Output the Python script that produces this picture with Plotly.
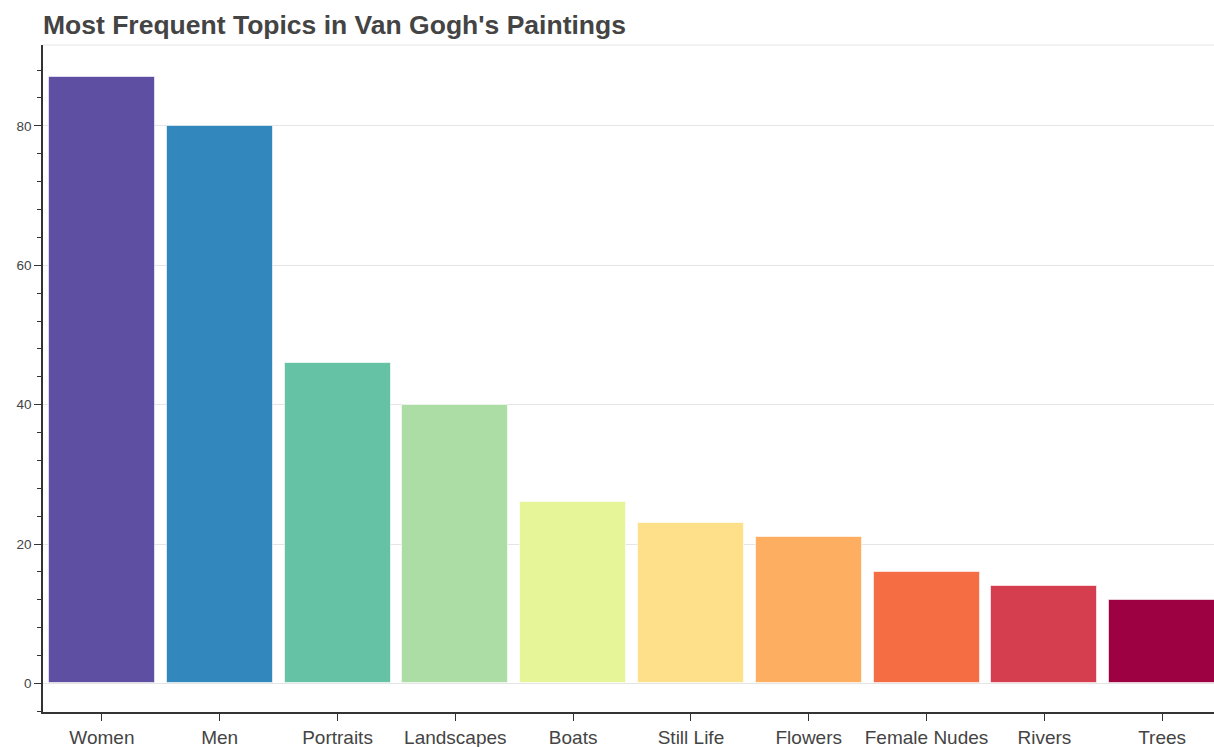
import plotly.graph_objects as go

# Topic counts across the catalogue
topics = ["Women", "Men", "Portraits", "Landscapes", "Boats",
          "Still Life", "Flowers", "Female Nudes", "Rivers", "Trees"]
counts = [87, 80, 46, 40, 26, 23, 21, 16, 14, 12]
palette = ["#5e4fa2", "#3288bd", "#66c2a5", "#abdda4", "#e6f598",
           "#fee08b", "#fdae61", "#f46d43", "#d53e4f", "#9e0142"]
y_ticks = [0, 20, 40, 60, 80]

fig = go.Figure(
    go.Bar(
        x=list(range(len(topics))),
        y=counts,
        width=0.9,
        marker=dict(color=palette, line=dict(color="rgba(255,255,255,0.6)", width=1)),
        hoverinfo="x+y",
    )
)

fig.update_layout(
    width=1214,
    height=747,
    margin=dict(l=43, r=0, t=45, b=35),
    paper_bgcolor="white",
    plot_bgcolor="white",
    showlegend=False,
    bargap=0,
    font=dict(family="Liberation Sans, Arial, sans-serif", color="#444444"),
    title=dict(
        text="<b>Most Frequent Topics in Van Gogh's Paintings</b>",
        x=0, xref="paper", xanchor="left",
        y=1, yref="container", yanchor="top",
        pad=dict(t=15, l=0),
        font=dict(size=26.5, color="#444444"),
    ),
    xaxis=dict(
        range=[-0.5, 9.44],
        tickmode="array",
        tickvals=list(range(len(topics))),
        ticktext=topics,
        showgrid=False,
        zeroline=False,
        showline=True,
        linecolor="#333333",
        linewidth=1.5,
        ticks="outside",
        ticklen=7,
        tickwidth=1,
        tickcolor="#333333",
        tickfont=dict(size=19, color="#444444"),
        fixedrange=True,
    ),
    yaxis=dict(
        range=[-4.1, 91.6],
        tickmode="array",
        tickvals=y_ticks,
        showgrid=True,
        gridcolor="#e5e5e5",
        gridwidth=1,
        zeroline=False,
        showline=True,
        linecolor="#333333",
        linewidth=1.5,
        ticks="outside",
        ticklen=7,
        tickwidth=1,
        tickcolor="#333333",
        tickfont=dict(size=13.5, color="#444444"),
        minor=dict(tick0=0, dtick=4, ticks="outside", ticklen=4,
                   tickcolor="#333333", showgrid=False),
        fixedrange=True,
    ),
    shapes=[
        dict(type="line", xref="paper", yref="paper", x0=0, x1=1, y0=1, y1=1,
             line=dict(color="#e5e5e5", width=1), layer="below"),
    ],
)

fig.write_html("out.html")
